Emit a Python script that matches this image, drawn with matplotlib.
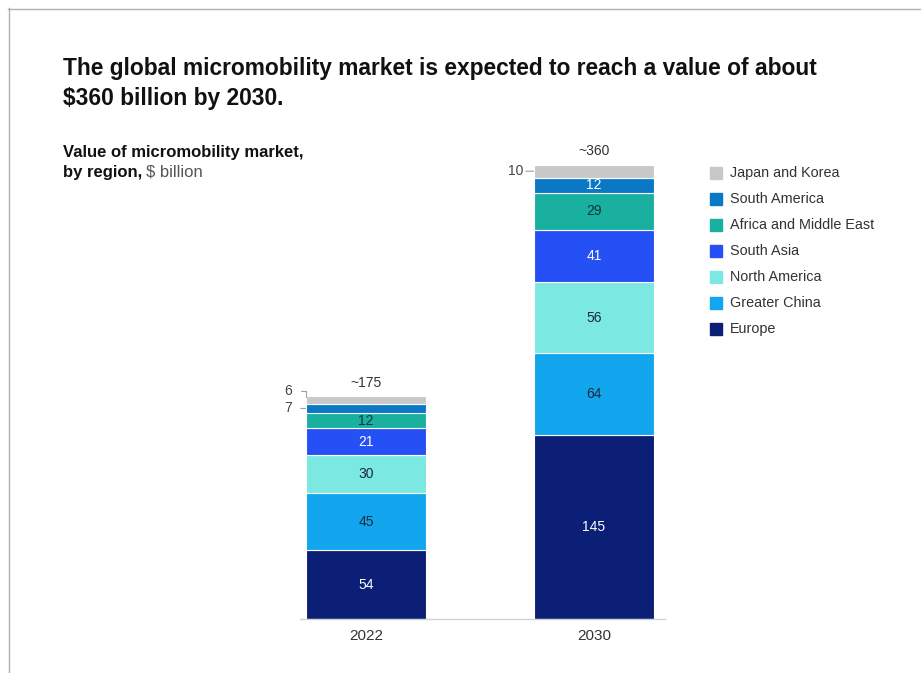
import numpy as np
import matplotlib.pyplot as plt
from matplotlib.lines import Line2D
from matplotlib.patches import Rectangle

plt.rcParams['font.family'] = ['Liberation Sans', 'DejaVu Sans']

years = ['2022', '2030']
regions = ['Europe', 'Greater China', 'North America', 'South Asia',
           'Africa and Middle East', 'South America', 'Japan and Korea']
values = {
    'Europe': [54, 145],
    'Greater China': [45, 64],
    'North America': [30, 56],
    'South Asia': [21, 41],
    'Africa and Middle East': [12, 29],
    'South America': [7, 12],
    'Japan and Korea': [6, 10],
}
totals = ['~175', '~360']

colors = {
    'Europe': '#0a1f75',
    'Greater China': '#12a6ee',
    'North America': '#7ce8e2',
    'South Asia': '#2450f5',
    'Africa and Middle East': '#19b0a0',
    'South America': '#0b78c6',
    'Japan and Korea': '#c8c8cb',
}
text_colors = {
    'Europe': 'white',
    'Greater China': '#1a2a40',
    'North America': '#1a2a40',
    'South Asia': 'white',
    'Africa and Middle East': '#0c3a36',
    'South America': 'white',
    'Japan and Korea': '#333333',
}
# segments too thin for an inside label, labelled to the left instead
outside = {('South America', 0), ('Japan and Korea', 0), ('Japan and Korea', 1)}

W, H = 921, 673
fig = plt.figure(figsize=(W / 100, H / 100), dpi=100)

# thin frame along the top and left edges
fig.add_artist(Line2D([8.5 / W, 8.5 / W], [0, 1 - 8 / H], color='#b0b0b0', lw=1))
fig.add_artist(Line2D([8 / W, 1], [1 - 8.5 / H, 1 - 8.5 / H], color='#b0b0b0', lw=1))

ax = fig.add_axes([300 / W, 1 - 619 / H, 365 / W, 483.4 / H])
x = np.arange(len(years))
width = 0.53
bottom = np.zeros(len(years))
for r in regions:
    v = np.array(values[r], dtype=float)
    ax.bar(x, v, width, bottom=bottom, color=colors[r], edgecolor='white',
           linewidth=0.8, label=r)
    for i in range(len(years)):
        if (r, i) in outside:
            continue
        ax.text(x[i], bottom[i] + v[i] / 2, str(values[r][i]), ha='center',
                va='center', fontsize=10, color=text_colors[r])
    bottom += v

# small segment labels with leader lines
sa0 = values['Europe'][0] + values['Greater China'][0] + values['North America'][0] \
    + values['South Asia'][0] + values['Africa and Middle East'][0]
left = x - width / 2
ax.annotate(str(values['South America'][0]), xy=(left[0], sa0 + values['South America'][0] / 2),
            xytext=(left[0] - 0.075, sa0 + values['South America'][0] / 2),
            ha='center', va='center', fontsize=10, color='#444444',
            arrowprops=dict(arrowstyle='-', color='#9aa0a6', lw=0.8,
                            shrinkA=4, shrinkB=0))
ax.annotate(str(values['Japan and Korea'][0]), xy=(left[0], bottom[0] - 0.5),
            xytext=(left[0] - 0.075, bottom[0] + 4.5),
            ha='center', va='center', fontsize=10, color='#444444',
            arrowprops=dict(arrowstyle='-', color='#9aa0a6', lw=0.8,
                            shrinkA=4, shrinkB=0,
                            connectionstyle='angle,angleA=0,angleB=90,rad=0'))
ax.annotate(str(values['Japan and Korea'][1]), xy=(left[1], bottom[1] - values['Japan and Korea'][1] / 2),
            xytext=(left[1] - 0.08, bottom[1] - values['Japan and Korea'][1] / 2),
            ha='center', va='center', fontsize=10, color='#444444',
            arrowprops=dict(arrowstyle='-', color='#9aa0a6', lw=0.8,
                            shrinkA=6, shrinkB=0))

for i in range(len(years)):
    ax.text(x[i], bottom[i] + 5, totals[i], ha='center', va='bottom',
            fontsize=10, color='#333333')

ax.set_xlim(-66 / 228, 1 + 71 / 228)
ax.set_ylim(0, 380)
ax.set_xticks(x)
ax.set_xticklabels(years, fontsize=11, color='#333333')
ax.tick_params(axis='x', length=0, pad=7)
ax.set_yticks([])
for s in ['top', 'right', 'left']:
    ax.spines[s].set_visible(False)
ax.spines['bottom'].set_color('#cfd3d8')
ax.spines['bottom'].set_linewidth(1)

# legend drawn as a column of squares, top entry first
lx, ly0, dy = 710, 173, 26
for k, r in enumerate(regions[::-1]):
    yy = ly0 + k * dy
    fig.add_artist(Rectangle((lx / W, 1 - (yy + 6) / H), 12 / W, 12 / H,
                             color=colors[r], transform=fig.transFigure))
    fig.text(730 / W, 1 - yy / H, r, ha='left', va='center', fontsize=10.4,
             color='#333333')

fig.text(63 / W, 1 - 68 / H,
         'The global micromobility market is expected to reach a value of about',
         ha='left', va='center', fontsize=16.4, fontweight='bold', color='#111111')
fig.text(63 / W, 1 - 98 / H, '$360 billion by 2030.',
         ha='left', va='center', fontsize=16.4, fontweight='bold', color='#111111')

fig.text(63 / W, 1 - 152 / H, 'Value of micromobility market,', ha='left',
         va='center', fontsize=12, fontweight='bold', color='#111111')
t = fig.text(63 / W, 1 - 172 / H, 'by region,', ha='left', va='center',
             fontsize=12, fontweight='bold', color='#111111')
fig.canvas.draw()
bb = t.get_window_extent()
fig.text((bb.x1 + 4) / W, 1 - 172 / H, '$ billion', ha='left', va='center',
         fontsize=12, color='#555555')

fig.savefig('out.png', dpi=100, facecolor='white')
